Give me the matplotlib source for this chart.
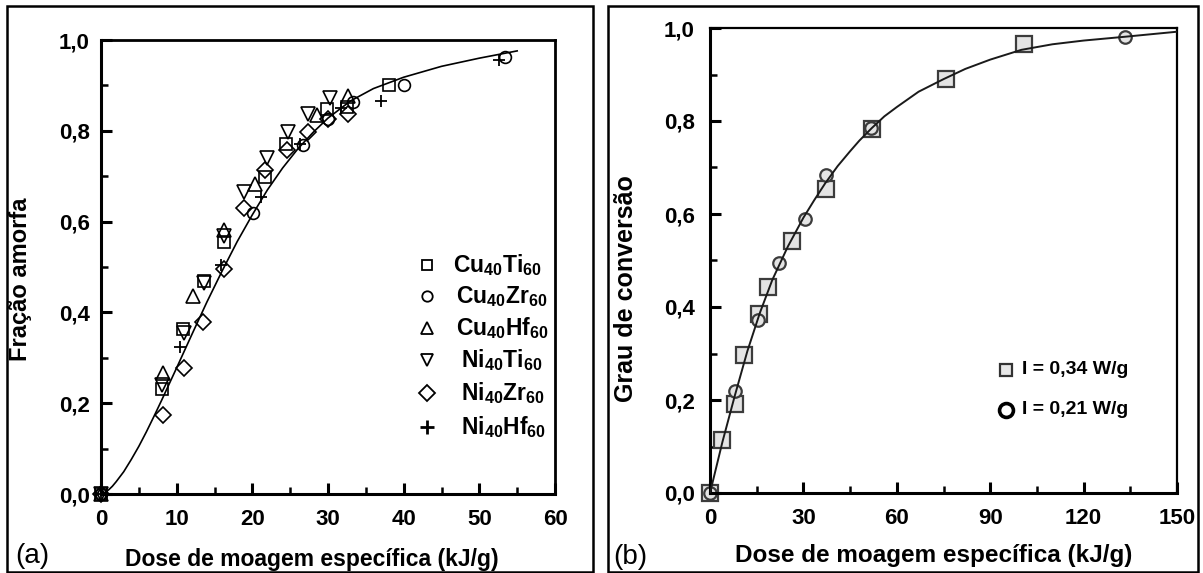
import matplotlib
matplotlib.use('Agg')
import matplotlib.pyplot as plt
from matplotlib.lines import Line2D
from matplotlib.patches import Rectangle
from matplotlib.ticker import MultipleLocator

plt.rcParams['font.family'] = ['Liberation Sans', 'DejaVu Sans']
plt.rcParams['font.weight'] = 'bold'
plt.rcParams['axes.labelweight'] = 'bold'
plt.rcParams['mathtext.fontset'] = 'custom'
plt.rcParams['mathtext.bf'] = 'Liberation Sans:bold'
plt.rcParams['mathtext.rm'] = 'Liberation Sans'
plt.rcParams['mathtext.it'] = 'Liberation Sans:italic'

# ---------------- panel (a) data ----------------
cuti_x = [0, 8.1, 10.9, 13.6, 16.25, 21.7, 24.5, 29.9, 32.5, 38.1]
cuti_y = [0, 0.232, 0.363, 0.470, 0.556, 0.699, 0.772, 0.847, 0.853, 0.901]
cuzr_x = [0, 20.1, 26.65, 30.0, 33.3, 40.0, 53.4]
cuzr_y = [0, 0.620, 0.769, 0.825, 0.864, 0.901, 0.963]
cuhf_x = [0, 8.24, 12.2, 16.25, 20.35, 28.5, 32.6]
cuhf_y = [0, 0.267, 0.437, 0.581, 0.683, 0.835, 0.877]
niti_x = [0, 8.1, 11.0, 13.65, 16.25, 18.9, 21.9, 24.75, 27.4, 30.3]
niti_y = [0, 0.240, 0.354, 0.464, 0.568, 0.666, 0.739, 0.798, 0.838, 0.872]
nizr_x = [0, 8.24, 10.97, 13.5, 16.25, 18.9, 21.7, 24.6, 27.3, 30.0, 32.7]
nizr_y = [0, 0.174, 0.277, 0.378, 0.495, 0.631, 0.714, 0.758, 0.798, 0.825, 0.836]
nihf_x = [0, 10.4, 15.8, 21.2, 26.3, 31.7, 37.0, 52.6]
nihf_y = [0, 0.324, 0.504, 0.655, 0.772, 0.850, 0.866, 0.956]

fit_a_x = [0, 0.5, 1, 1.5, 2, 3, 4, 5, 6, 7, 8, 10, 12, 14, 16, 18, 20, 22,
           24, 26, 28, 30, 33, 36, 40, 45, 50, 55]
fit_a_y = [0, 0.003, 0.009, 0.017, 0.027, 0.049, 0.076, 0.105, 0.137, 0.171,
           0.206, 0.278, 0.351, 0.423, 0.491, 0.556, 0.615, 0.670, 0.718,
           0.760, 0.796, 0.828, 0.866, 0.893, 0.918, 0.942, 0.960, 0.976]

labels_a = [r'$\mathbf{Cu_{40}Ti_{60}}$', r'$\mathbf{Cu_{40}Zr_{60}}$',
            r'$\mathbf{Cu_{40}Hf_{60}}$', r'$\mathbf{Ni_{40}Ti_{60}}$',
            r'$\mathbf{Ni_{40}Zr_{60}}$', r'$\mathbf{Ni_{40}Hf_{60}}$']

xticks_a = [0, 10, 20, 30, 40, 50, 60]
yticks = [0.0, 0.2, 0.4, 0.6, 0.8, 1.0]
ytick_labels = ['0,0', '0,2', '0,4', '0,6', '0,8', '1,0']

# ---------------- panel (b) data ----------------
sq_x = [0, 4.0, 7.9, 11.0, 15.7, 18.5, 26.2, 37.1, 52.1, 75.9, 101.0]
sq_y = [0, 0.113, 0.192, 0.296, 0.384, 0.442, 0.542, 0.654, 0.782, 0.890, 0.966]
ci_x = [0, 7.9, 15.4, 22.2, 30.5, 37.3, 51.8, 133.4]
ci_y = [0, 0.219, 0.373, 0.495, 0.589, 0.683, 0.785, 0.981]

fit_b_x = [0, 4, 8, 12, 16, 20, 25, 30, 33.5, 37, 41, 45, 48, 52, 56, 60,
           67, 75, 82, 90, 100, 110, 120, 133, 150]
fit_b_y = [0, 0.110, 0.210, 0.305, 0.387, 0.458, 0.530, 0.592, 0.630, 0.666,
           0.703, 0.735, 0.758, 0.785, 0.810, 0.830, 0.863, 0.890, 0.912,
           0.932, 0.953, 0.965, 0.973, 0.981, 0.992]

labels_b = ['I = 0,34 W/g', 'I = 0,21 W/g']
xticks_b = [0, 30, 60, 90, 120, 150]

W, H = 1203, 573
fig = plt.figure(figsize=(W / 100, H / 100), dpi=100)

# panel frames
for (x0, x1) in [(7, 593), (608, 1198)]:
    fig.patches.append(Rectangle((x0 / W, 1 / H), (x1 - x0) / W, 566 / H,
                                 transform=fig.transFigure, fill=False,
                                 lw=1.8, ec='black'))


def style_axes(ax, lw_lb, lw_tr):
    for s in ['left', 'bottom']:
        ax.spines[s].set_linewidth(lw_lb)
    for s in ['top', 'right']:
        ax.spines[s].set_linewidth(lw_tr)
    ax.tick_params(which='major', direction='in', length=8, width=2.2,
                   labelsize=16, top=False, right=False)
    ax.tick_params(which='minor', direction='in', length=5, width=1.8,
                   top=False, right=False)
    ax.tick_params(axis='y', which='major', pad=8)
    ax.tick_params(axis='x', which='major', pad=11)
    ax.yaxis.set_minor_locator(MultipleLocator(0.1))


# ---------------- panel (a) ----------------
axA = fig.add_axes([101 / W, 1 - 494 / H, 454 / W, 454 / H])
mk = dict(mfc='none', mec='black', mew=1.2, ls='none', clip_on=False)
axA.plot(cuti_x, cuti_y, marker='s', ms=8, **mk)
axA.plot(cuzr_x, cuzr_y, marker='o', ms=8.5, **mk)
axA.plot(cuhf_x, cuhf_y, marker='^', ms=9.5, **mk)
axA.plot(niti_x, niti_y, marker='v', ms=9.5, **mk)
axA.plot(nizr_x, nizr_y, marker='D', ms=8, **mk)
axA.plot(nihf_x, nihf_y, marker='+', ms=9, mec='black', mew=1.3, ls='none',
         clip_on=False)
axA.plot(fit_a_x, fit_a_y, color='black', lw=1.2, zorder=3)
axA.set_xlim(0, 60)
axA.set_ylim(0, 1.0)
axA.set_xticks(xticks_a)
axA.xaxis.set_minor_locator(MultipleLocator(5))
axA.set_yticks(yticks, ytick_labels)
style_axes(axA, 2.2, 2.0)
axA.set_ylabel('Fração amorfa', fontsize=17, fontweight='bold')
axA.yaxis.set_label_coords(-0.152, 0.474)
axA.set_xlabel('Dose de moagem específica (kJ/g)', fontsize=16.5,
               fontweight='bold')
axA.xaxis.set_label_coords(0.465, -0.118)

# legend (a), drawn manually
leg_markers = ['s', 'o', '^', 'v', 'D', '+']
leg_ms = [7, 7.5, 8, 8, 8, 10]
leg_rows = [0.504, 0.436, 0.366, 0.295, 0.222, 0.148]
leg_tx = [0.775, 0.782, 0.782, 0.793, 0.793, 0.793]
for m, ms, yy, tx, lab in zip(leg_markers, leg_ms, leg_rows, leg_tx, labels_a):
    axA.plot([0.718], [yy], marker=m, ms=ms, mfc='none', mec='black',
             mew=1.3 if m != '+' else 2.0, ls='none', transform=axA.transAxes)
    axA.text(tx, yy - 0.016, lab, transform=axA.transAxes, fontsize=16.5,
             va='baseline', ha='left')

fig.text(15 / W, 1 - 556 / H, '(a)', fontsize=20, fontweight='normal',
         va='center', ha='left')

# ---------------- panel (b) ----------------
axB = fig.add_axes([710 / W, 1 - 493 / H, 467 / W, 465 / H])
axB.plot(sq_x, sq_y, marker='s', ms=11, mfc='#e4e4e4', mec='#3c3c3c', mew=1.6,
         ls='none', clip_on=False, zorder=2)
axB.plot(ci_x, ci_y, marker='o', ms=9, mfc='#e4e4e4', mec='#3c3c3c', mew=1.6,
         ls='none', clip_on=False, zorder=2)
axB.plot(fit_b_x, fit_b_y, color='#1a1a1a', lw=1.4, zorder=3)
axB.set_xlim(0, 150)
axB.set_ylim(0, 1.0)
axB.set_xticks(xticks_b)
axB.xaxis.set_minor_locator(MultipleLocator(15))
axB.set_yticks(yticks, ytick_labels)
style_axes(axB, 2.2, 1.6)
axB.tick_params(axis='y', which='major', pad=11)
axB.set_ylabel('Grau de conversão', fontsize=18, fontweight='bold')
axB.yaxis.set_label_coords(-0.155, 0.44)
axB.set_xlabel('Dose de moagem específica (kJ/g)', fontsize=17.5,
               fontweight='bold')
axB.xaxis.set_label_coords(0.478, -0.11)

marker_b = [dict(marker='s', ms=9, mfc='#e8e8e8', mec='#333333', mew=1.6),
            dict(marker='o', ms=10, mfc='white', mec='black', mew=2.6)]
for st, yy, lab in zip(marker_b, [370, 410], labels_b):
    ya = (493 - yy) / 465
    axB.plot([(1006 - 710) / 467], [ya], ls='none', transform=axB.transAxes,
             **st)
    axB.text((1022 - 710) / 467, ya, lab, transform=axB.transAxes,
             fontsize=14, va='center', ha='left')

fig.text(613 / W, 1 - 557 / H, '(b)', fontsize=20, fontweight='normal',
         va='center', ha='left')

fig.savefig('out.png', dpi=100, facecolor='white')
